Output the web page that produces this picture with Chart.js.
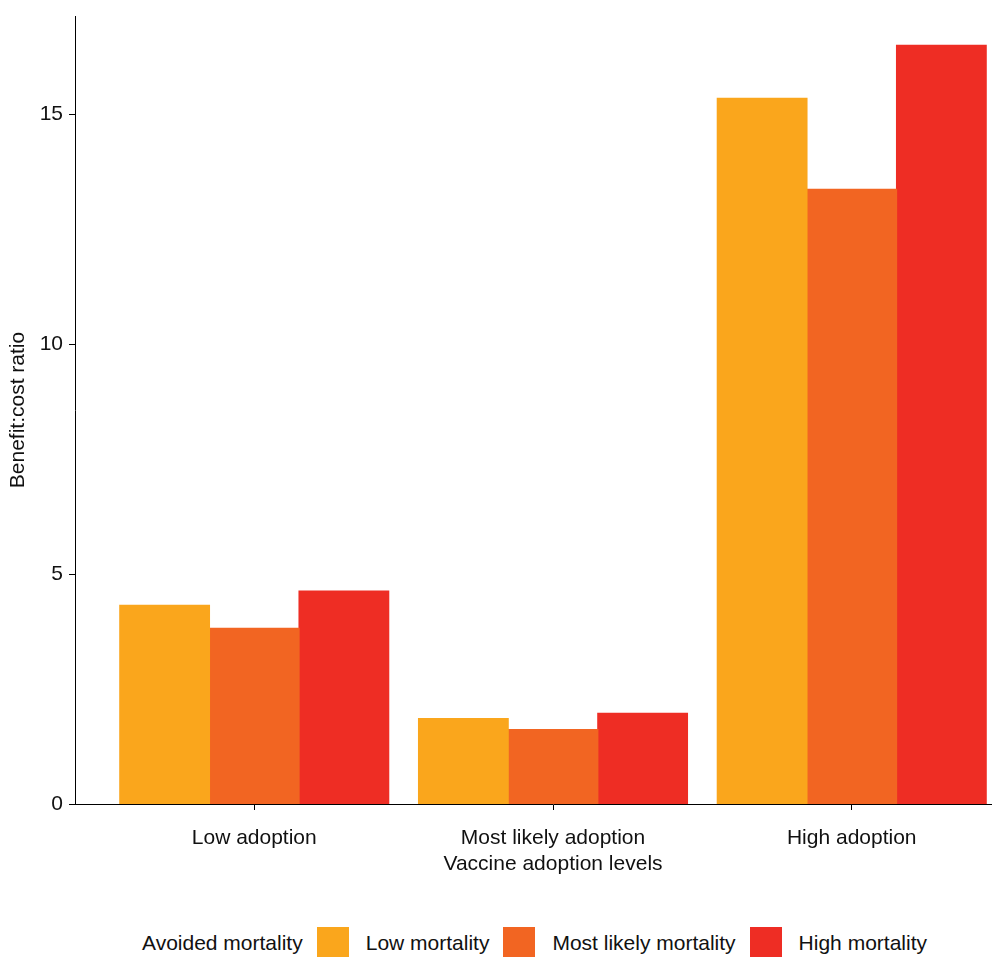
<!DOCTYPE html>
<html>
<head>
<meta charset="utf-8">
<title>Benefit:cost ratio by vaccine adoption level</title>
<script src="https://cdn.jsdelivr.net/npm/chart.js@4.4.1/dist/chart.umd.min.js"></script>
<style>
  html, body { margin: 0; padding: 0; background: #fff; overflow: hidden; }
  #wrap { position: relative; width: 1040px; height: 957px; }
  #chartBox { position: absolute; left: 0; top: 0; width: 1040px; height: 890px; }
  #legend {
    position: absolute; left: 142px; top: 927px;
    display: flex; align-items: center;
    font-family: "Liberation Sans", Arial, sans-serif; font-size: 21px; color: #111;
    white-space: nowrap;
  }
  #legend .title { margin-right: 14px; }
  #legend .box { width: 32px; height: 32px; margin-right: 17px; }
  #legend .label { margin-right: 14px; }
</style>
</head>
<body>
<div id="wrap">
  <div id="chartBox"><canvas id="bcr"></canvas></div>
  <div id="legend"></div>
</div>
<script>
// categories on the x axis
const adoptionLevels = ['Low adoption', 'Most likely adoption', 'High adoption'];

// one series per mortality scenario
const seriesNames = ['Low mortality', 'Most likely mortality', 'High mortality'];
const seriesColors = ['#FAA61C', '#F26522', '#EE2D24'];
const lowMortality = [4.32, 1.86, 15.35];
const likelyMortality = [3.82, 1.62, 13.37];
const highMortality = [4.63, 1.97, 16.50];

const yTicks = [0, 5, 10, 15];
const legendTitle = 'Avoided mortality';
const xTitle = 'Vaccine adoption levels';
const yTitle = 'Benefit:cost ratio';

const FONT = '"Liberation Sans", Arial, sans-serif';
const INK = '#111';

const seriesValues = [lowMortality, likelyMortality, highMortality];

const datasets = seriesNames.map((name, s) => ({
    label: name,
    data: seriesValues[s].map((v, i) => ({ x: i, y: v })),
    backgroundColor: seriesColors[s],
    borderWidth: 0,
    inflateAmount: 0.6,   // hide the hairline seams between touching bars
    categoryPercentage: 0.9,
    barPercentage: 1.0
}));

// axis look: black line, short outside ticks, no grid
const axisGrid = {
    drawOnChartArea: false,
    drawTicks: true,
    tickLength: 6,
    offset: false,
    color: '#000',
    lineWidth: 1
};

new Chart(document.getElementById('bcr'), {
    type: 'bar',
    data: { datasets: datasets },
    options: {
        responsive: true,
        maintainAspectRatio: false,
        animation: false,
        layout: { padding: { top: 16, right: 9, left: 0, bottom: 0 } },
        plugins: {
            legend: { display: false },
            tooltip: { enabled: false }
        },
        scales: {
            x: {
                type: 'linear',
                offset: false,
                min: -0.6,
                max: 2.6,
                grid: axisGrid,
                border: { display: true, color: '#000', width: 1 },
                afterBuildTicks: (scale) => {
                    scale.ticks = adoptionLevels.map((c, i) => ({ value: i }));
                },
                afterFit: (scale) => {
                    scale.height = 86;
                    scale.paddingLeft = 0;
                    scale.paddingRight = 0;
                },
                ticks: {
                    padding: 16,
                    color: INK,
                    font: { family: FONT, size: 21 },
                    maxRotation: 0,
                    autoSkip: false,
                    callback: (v) => adoptionLevels[v]
                },
                title: {
                    display: true,
                    text: xTitle,
                    color: INK,
                    font: { family: FONT, size: 21 },
                    padding: { top: 0, bottom: 13 }
                }
            },
            y: {
                min: 0,
                max: 17.14,
                grid: axisGrid,
                border: { display: true, color: '#000', width: 1 },
                afterBuildTicks: (scale) => {
                    scale.ticks = yTicks.map(v => ({ value: v }));
                },
                afterFit: (scale) => {
                    scale.width = 75;
                    scale.paddingTop = 0;
                    scale.paddingBottom = 0;
                },
                ticks: {
                    padding: 6,
                    color: INK,
                    font: { family: FONT, size: 21 }
                },
                title: {
                    display: true,
                    text: yTitle,
                    color: INK,
                    font: { family: FONT, size: 21 },
                    padding: { top: 6, bottom: 0 }
                }
            }
        }
    }
});

// legend row: title then colour boxes with labels
const legendEl = document.getElementById('legend');
const t = document.createElement('span');
t.className = 'title';
t.textContent = legendTitle;
legendEl.appendChild(t);
seriesNames.forEach((name, s) => {
    const box = document.createElement('span');
    box.className = 'box';
    box.style.background = seriesColors[s];
    legendEl.appendChild(box);
    const lab = document.createElement('span');
    lab.className = 'label';
    lab.textContent = name;
    legendEl.appendChild(lab);
});
</script>
</body>
</html>
